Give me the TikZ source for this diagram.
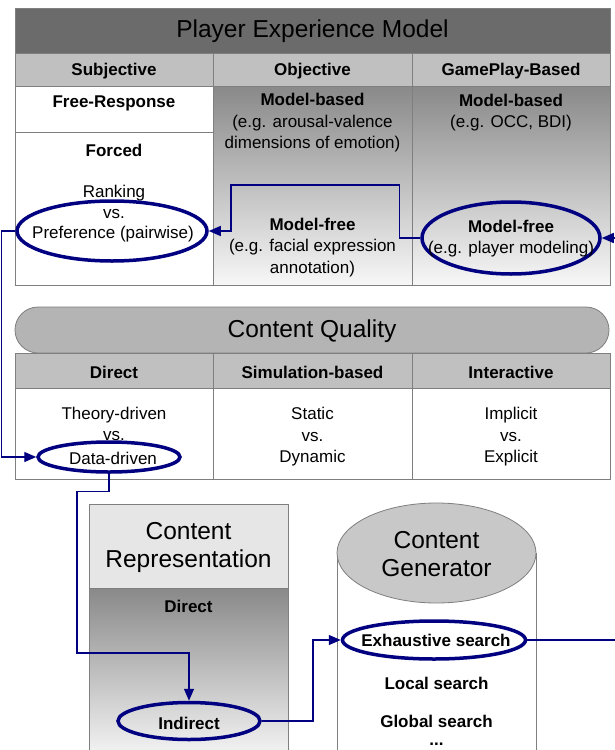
\documentclass[tikz,border=0pt]{standalone}
\usepackage{fontspec}
\setmainfont{Liberation Sans}
\usetikzlibrary{shapes.geometric,arrows.meta}
\definecolor{titlefill}{HTML}{6B6B6B}
\definecolor{hdrfill}{HTML}{C0C0C0}
\definecolor{pillfill}{HTML}{B4B4B4}
\definecolor{gtop}{HTML}{898989}
\definecolor{gbot}{HTML}{F7F7F7}
\definecolor{crtop}{HTML}{E6E6E6}
\definecolor{cyltop}{HTML}{C8C8C8}
\definecolor{cellline}{HTML}{7F7F7F}
\definecolor{lnk}{HTML}{000080}
\begin{document}
\begin{tikzpicture}[x=1pt,y=-1pt,
  cell/.style={draw=cellline, line width=0.8pt},
  txt/.style={font=\fontsize{17}{21.5}\selectfont, align=center, inner sep=0pt, yshift=-1.5pt},
  btxt/.style={txt, font=\fontsize{17}{21.5}\selectfont\bfseries},
  big/.style={font=\fontsize{24.5}{28}\selectfont, align=center, inner sep=0pt, yshift=-1.5pt},
  oval/.style={ellipse, draw=lnk, line width=3.5pt, inner sep=0pt},
  conn/.style={draw=lnk, line width=1.3pt},
  arr/.style={conn, -{Triangle[length=12pt,width=10pt]}}
]
\useasboundingbox (0,0) rectangle (615,750);
\clip (0,0) rectangle (615,750);
\fill[white] (0,0) rectangle (615,750);

% ---------- Player Experience Model table ----------
\fill[titlefill] (15,8) rectangle (610,53);
\fill[hdrfill] (15,53) rectangle (610,86);
\fill[white] (15,86) rectangle (213,285);
\shade[top color=gtop, bottom color=gbot] (213,86) rectangle (412,285);
\shade[top color=gtop, bottom color=gbot] (412,86) rectangle (610,285);
\draw[cell] (15,8) rectangle (610,285);
\draw[cell] (15,53) -- (610,53);
\draw[cell] (15,86) -- (610,86);
\draw[cell] (213,53) -- (213,285);
\draw[cell] (412,53) -- (412,285);
\draw[cell] (15,132) -- (213,132);

\node[big] (pem) at (312.5,30) {Player Experience Model};
\node[btxt] (hsub) at (114,70) {Subjective};
\node[btxt] (hobj) at (312.5,70) {Objective};
\node[btxt] (hgp) at (511,70) {GamePlay-Based};
\node[btxt] (free) at (114,102) {Free-Response};
\node[btxt] (forced) at (114,149) {Forced};
\node[txt] (rank) at (114,192) {Ranking};
\node[txt] (vs1) at (114,212.5) {vs.};
\node[oval, minimum width=190pt, minimum height=60pt] (pref) at (112,231) {};
\node[txt] (preft) at (113,232.5) {Preference (pairwise)};
\node[txt] (objmb) at (312.5,121.5) {\textbf{Model-based}\\(e.g. arousal-valence\\dimensions of emotion)};
\node[txt] (objmf) at (312.5,246) {\textbf{Model-free}\\(e.g. facial expression\\annotation)};
\node[txt] (gpmb) at (511,111) {\textbf{Model-based}\\(e.g. OCC, BDI)};
\node[oval, minimum width=178pt, minimum height=72pt] (mfree) at (511,238) {};
\node[txt] (mfreet) at (511,237) {\textbf{Model-free}\\(e.g. player modeling)};

% ---------- Content Quality ----------
\draw[cell, fill=pillfill, rounded corners=23pt] (15,307) rectangle (609,353);
\node[big] (cq) at (312,330) {Content Quality};
\fill[hdrfill] (15,353) rectangle (610,388);
\draw[cell] (15,353) rectangle (610,479);
\draw[cell] (15,388) -- (610,388);
\draw[cell] (213,353) -- (213,479);
\draw[cell] (412,353) -- (412,479);
\node[btxt] (hdir) at (114,371) {Direct};
\node[btxt] (hsim) at (312.5,371) {Simulation-based};
\node[btxt] (hint) at (511,371) {Interactive};
\node[txt] (theo) at (114,414) {Theory-driven};
\node[txt] (vs2) at (114,435) {vs.};
\node[oval, minimum width=142pt, minimum height=30pt] (dd) at (109,457) {};
\node[txt] (ddt) at (113,457) {Data-driven};
\node[txt] (simt) at (312.5,435.5) {Static\\vs.\\Dynamic};
\node[txt] (intt) at (511,435.5) {Implicit\\vs.\\Explicit};

% ---------- Content Representation ----------
\fill[crtop] (89,504) rectangle (288,588);
\shade[top color=gtop, bottom color=gbot] (89,588) rectangle (288,760);
\draw[cell] (89,760) -- (89,504) -- (288,504) -- (288,760);
\draw[cell] (89,588) -- (288,588);
\node[big] (cr) at (188.5,546) {Content\\Representation};
\node[btxt] (crdir) at (188.5,605) {Direct};
\node[oval, minimum width=142pt, minimum height=37pt] (ind) at (189,721) {};
\node[btxt] (indt) at (189,722) {Indirect};

% ---------- Content Generator (cylinder) ----------
\fill[white] (337,553) rectangle (536,760);
\draw[cell] (337,553) -- (337,760);
\draw[cell] (536,553) -- (536,760);
\node[ellipse, draw=cellline, line width=0.8pt, fill=cyltop, minimum width=199pt, minimum height=100pt, inner sep=0pt] (cg) at (436.5,553) {};
\node[big] (cgt) at (436.5,553) {Content\\Generator};
\node[oval, minimum width=183pt, minimum height=38pt] (exh) at (434,640) {};
\node[btxt] (exht) at (436,639) {Exhaustive search};
\node[btxt] (loc) at (436.5,682) {Local search};
\node[btxt] (glob) at (436.5,729) {Global search\\[-4pt]...};

% ---------- connectors ----------
\coordinate (mfin) at (615,238);
\coordinate (exhout) at (615,640);
\draw[arr] (mfin) -- (mfree.east);
\draw[arr] (mfree.west) -- ++(-21,0) |- (231,185) |- (pref.east);
\draw[arr] (pref.west) -- ++(-14,0) |- (dd.west);
\draw[arr] (dd.south) -- ++(0,18) -| (77,653) -| (ind.north);
\draw[arr] (ind.east) -| (313,640) -- (exh.west);
\draw[conn] (exh.east) -- (exhout);
\end{tikzpicture}
\end{document}
